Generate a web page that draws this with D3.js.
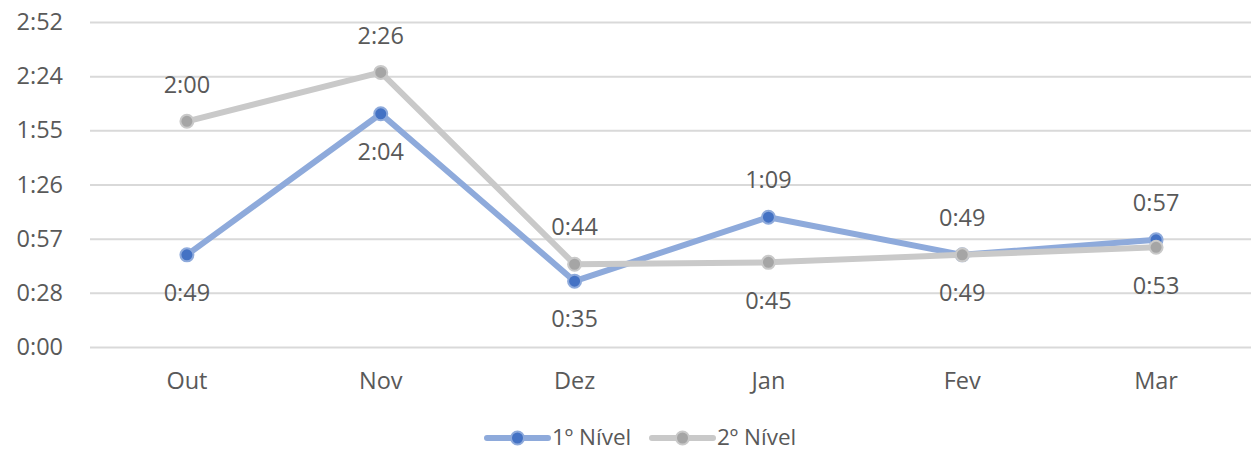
<!DOCTYPE html>
<html>
<head>
<meta charset="utf-8">
<script src="https://cdn.jsdelivr.net/npm/d3@7"></script>
<style>
  body { margin: 0; background: #fff; }
  text { font-family: "Open Sans", "Noto Sans", sans-serif; fill: #595959; }
</style>
</head>
<body>
<div id="chart"></div>
<script>
const months = ["Out", "Nov", "Dez", "Jan", "Fev", "Mar"]
// values in minutes
const nivel1 = [49, 124, 35, 69, 49, 57]
const nivel2 = [120, 146, 44, 45, 49, 53]
const yTicks = [0, 28.8, 57.6, 86.4, 115.2, 144, 172.8] // 0.02 day steps
const labelSide1 = ["below", "below", "below", "above", "below", "above"]
const labelSide2 = ["above", "above", "above", "below", "above", "below"]

const W = 1251, H = 453
const fontSize = 23.5
const svg = d3.select("#chart").append("svg")
  .attr("width", W).attr("height", H)

const x = d3.scaleBand().domain(months).range([90, 1253])
const y = d3.scaleLinear().domain([0, 172.8]).range([347, 22])
const cx = (m) => x(m) + x.bandwidth() / 2

const fmt = (min) => {
  const t = Math.floor(min)
  return Math.floor(t / 60) + ":" + String(t % 60).padStart(2, "0")
}

// gridlines + y labels
const yAxis = svg.append("g")
  .attr("transform", "translate(90,0)")
  .call(d3.axisLeft(y).tickValues(yTicks).tickFormat(fmt).tickSize(-1163).tickPadding(27))
yAxis.select(".domain").remove()
yAxis.selectAll(".tick line").attr("stroke", "#d9d9d9").attr("stroke-width", 2)
yAxis.selectAll(".tick text").attr("font-size", fontSize).style("fill", "#595959")

// x labels
const xAxis = svg.append("g")
  .attr("transform", "translate(0,347)")
  .call(d3.axisBottom(x).tickSize(0).tickPadding(25))
xAxis.select(".domain").remove()
xAxis.selectAll(".tick text").attr("font-size", fontSize).style("fill", "#595959")

const series = [
  { name: "1º Nível", values: nivel1, sides: labelSide1, line: "#8eaadb", dot: "#4472c4", ring: "#8eaadb" },
  { name: "2º Nível", values: nivel2, sides: labelSide2, line: "#c9c9c9", dot: "#a5a5a5", ring: "#c9c9c9" }
]

const line = d3.line().x((d) => cx(d.m)).y((d) => y(d.v))

series.forEach((s) => {
  const pts = months.map((m, i) => ({ m: m, v: s.values[i], side: s.sides[i] }))
  const g = svg.append("g")
  g.append("path").datum(pts)
    .attr("d", line)
    .attr("fill", "none")
    .attr("stroke", s.line)
    .attr("stroke-width", 6)
    .attr("stroke-linejoin", "round")
  g.selectAll("circle").data(pts).enter().append("circle")
    .attr("cx", (d) => cx(d.m))
    .attr("cy", (d) => y(d.v))
    .attr("r", 6.5)
    .attr("fill", s.dot)
    .attr("stroke", s.ring)
    .attr("stroke-width", 2)
  g.selectAll("text").data(pts).enter().append("text")
    .attr("x", (d) => cx(d.m))
    .attr("y", (d) => y(d.v) + (d.side === "above" ? -37 : 38))
    .attr("dy", "0.35em")
    .attr("text-anchor", "middle")
    .attr("font-size", fontSize)
    .text((d) => fmt(d.v))
})

// legend
const legend = svg.append("g").attr("transform", "translate(0,438)")
const legendX = [487, 652]
series.forEach((s, i) => {
  const lg = legend.append("g").attr("transform", "translate(" + legendX[i] + ",0)")
  lg.append("line").attr("x1", 0).attr("x2", 61).attr("y1", 0).attr("y2", 0)
    .attr("stroke", s.line).attr("stroke-width", 6).attr("stroke-linecap", "round")
  lg.append("circle").attr("cx", 30.5).attr("cy", 0).attr("r", 6.5)
    .attr("fill", s.dot).attr("stroke", s.ring).attr("stroke-width", 2)
  lg.append("text").attr("x", 65).attr("y", 0).attr("dy", "0.32em")
    .attr("font-size", 22.5).text(s.name)
})
</script>
</body>
</html>
